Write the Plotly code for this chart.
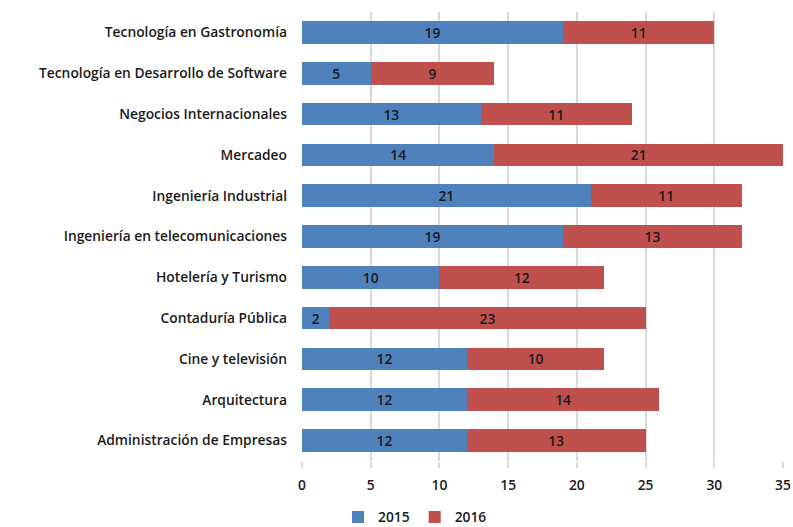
import plotly.graph_objects as go

categories = [
    "Administración de Empresas",
    "Arquitectura",
    "Cine y televisión",
    "Contaduría Pública",
    "Hotelería y Turismo",
    "Ingeniería en telecomunicaciones",
    "Ingeniería Industrial",
    "Mercadeo",
    "Negocios Internacionales",
    "Tecnología en Desarrollo de Software",
    "Tecnología en Gastronomía",
]
values_2015 = [12, 12, 12, 2, 10, 19, 21, 14, 13, 5, 19]
values_2016 = [13, 14, 10, 23, 12, 13, 11, 21, 11, 9, 11]
x_ticks = [0, 5, 10, 15, 20, 25, 30, 35]

FONT = "Open Sans, Liberation Sans, sans-serif"
TXT = "#1a1a1a"
FS = 13.8

fig = go.Figure()
for name, vals, col in [("2015", values_2015, "#4F81BD"), ("2016", values_2016, "#C0504D")]:
    fig.add_trace(go.Bar(
        y=categories, x=vals, name=name, orientation="h",
        marker=dict(color=col, line=dict(width=0)),
        text=[str(v) for v in vals], textposition="inside", textangle=0,
        insidetextanchor="middle", constraintext="none",
        textfont=dict(family=FONT, size=FS, color=TXT, weight=600),
        cliponaxis=False,
    ))

fig.update_layout(
    barmode="stack", bargap=0.447,
    width=793, height=527,
    margin=dict(l=302, r=10, t=12, b=66, autoexpand=False),
    paper_bgcolor="white", plot_bgcolor="white",
    font=dict(family=FONT, size=FS, color=TXT, weight=600),
    legend=dict(orientation="h", x=0.235, y=-0.125, xanchor="center", yanchor="middle",
                font=dict(size=FS, color=TXT, weight=600), traceorder="normal",
                itemwidth=30, tracegroupgap=0),
    showlegend=True,
)
fig.update_xaxes(range=[0, 35], tickvals=x_ticks, showgrid=True, gridcolor="#d9d9d9",
                 gridwidth=2, zeroline=False, showline=False, automargin=False,
                 ticks="outside", ticklen=6, tickcolor="#d9d9d9", tickwidth=2,
                 ticklabelstandoff=5,
                 tickfont=dict(size=FS, color=TXT, weight=600))
fig.update_yaxes(showgrid=False, showline=False, zeroline=False, ticks="", automargin=False,
                 ticklabelstandoff=14, tickfont=dict(size=FS, color=TXT, weight=600))

# remove the browser's default 8px body margin so the figure fills the window exactly
fig.write_html("out.html",
               config={"displayModeBar": False},
               post_script="document.body.style.margin='0';document.body.style.overflow='hidden';")
